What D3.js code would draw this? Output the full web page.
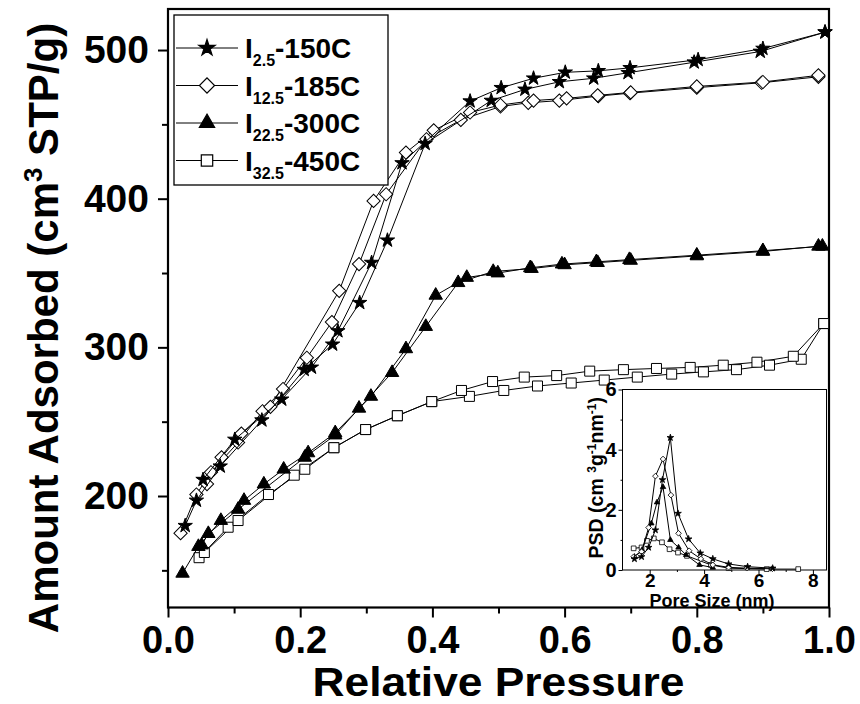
<!DOCTYPE html>
<html>
<head>
<meta charset="utf-8">
<script src="https://cdn.jsdelivr.net/npm/d3@7"></script>
<style>
  html, body { margin: 0; padding: 0; background: #fff; }
  svg { display: block; }
  text { font-family: "Liberation Sans", Arial, sans-serif; font-weight: bold; fill: #000; }
</style>
</head>
<body>
<svg id="chart" width="860" height="704"></svg>
<script>
// ---------------- data ----------------
const seriesNames = ["2.5", "12.5", "22.5", "32.5"];
const seriesSuffix = ["-150C", "-185C", "-300C", "-450C"];

const xTicks = [0, 0.2, 0.4, 0.6, 0.8, 1.0];
const xTickLabels = ["0.0", "0.2", "0.4", "0.6", "0.8", "1.0"];
const yTicks = [200, 300, 400, 500];
const yMinorTicks = [150, 250, 350, 450];
const xMinorTicks = [0.1, 0.3, 0.5, 0.7, 0.9];

// I2.5-150C (stars)
const starAdsP = [0.026, 0.043, 0.079, 0.142, 0.206, 0.249, 0.29, 0.332, 0.389, 0.489, 0.54, 0.592, 0.644, 0.696, 0.796, 0.896, 0.994];
const starAdsV = [180, 197, 220, 251, 285, 302, 330, 372, 437, 466, 473.5, 478.6, 481, 484.7, 491.8, 499, 512];
const starDesP = [0.994, 0.9, 0.802, 0.699, 0.651, 0.601, 0.553, 0.504, 0.457, 0.354, 0.308, 0.257, 0.217, 0.172, 0.101, 0.053];
const starDesV = [512, 501, 493.5, 488, 486, 485, 481, 474.6, 465.6, 424, 357, 311, 286.5, 265, 238, 211];

// I12.5-185C (open diamonds)
const diaAdsP = [0.019, 0.043, 0.065, 0.106, 0.143, 0.174, 0.21, 0.248, 0.289, 0.33, 0.391, 0.443, 0.503, 0.545, 0.592, 0.651, 0.699, 0.8, 0.898, 0.984];
const diaAdsV = [175, 201, 216, 236, 257, 272, 293, 317, 356, 403, 440, 453, 462, 464.5, 466, 469, 471, 474.7, 478, 482];
const diaDesP = [0.984, 0.9, 0.8, 0.7, 0.65, 0.603, 0.553, 0.503, 0.457, 0.402, 0.36, 0.311, 0.259, 0.155, 0.111, 0.081, 0.059];
const diaDesV = [483, 478.5, 475.5, 471.5, 469.5, 467.5, 466, 463, 458, 446, 431, 398.5, 338, 260, 242, 226, 208];

// I22.5-300C (filled triangles)
const triAdsP = [0.022, 0.046, 0.08, 0.115, 0.145, 0.175, 0.212, 0.253, 0.307, 0.36, 0.405, 0.452, 0.499, 0.548, 0.596, 0.648, 0.698, 0.8, 0.9, 0.99];
const triAdsV = [148, 166, 183.5, 197, 208, 218, 229, 242.5, 267, 299, 335, 347, 350, 353.5, 356, 357.5, 359, 362, 365, 368];
const triDesP = [0.984, 0.9, 0.8, 0.7, 0.65, 0.6, 0.55, 0.492, 0.439, 0.39, 0.339, 0.289, 0.253, 0.207, 0.106, 0.061, 0.051];
const triDesV = [368, 364.5, 361.5, 358.5, 357, 355.5, 353, 351, 343.5, 314, 283, 259, 241, 226, 191, 174.7, 167];

// I32.5-450C (open squares)
const sqAdsP = [0.047, 0.091, 0.152, 0.207, 0.251, 0.299, 0.347, 0.399, 0.456, 0.508, 0.559, 0.61, 0.66, 0.71, 0.762, 0.81, 0.86, 0.91, 0.958, 0.992];
const sqAdsV = [158.5, 179, 201, 218, 232.5, 244.7, 254, 263.5, 267, 271, 274, 276, 278, 280, 282, 283.5, 285, 288, 292, 316];
const sqDesP = [0.992, 0.946, 0.891, 0.84, 0.79, 0.739, 0.689, 0.638, 0.588, 0.539, 0.491, 0.444, 0.399, 0.347, 0.299, 0.251, 0.191, 0.106, 0.055];
const sqDesV = [316, 294, 290, 288, 286.5, 285.8, 285, 284, 281, 280, 277, 271, 263.5, 254, 244.7, 232.5, 214, 183.5, 162];

// Inset: pore size distribution
const insetXTicks = [2, 4, 6, 8];
const insetXMinor = [3, 5, 7];
const insetYTicks = [0, 2, 4, 6];
const insetYMinor = [1, 3, 5];
const psdStarX = [1.44, 1.70, 1.96, 2.21, 2.47, 2.76, 3.04, 3.43, 3.86, 4.32, 4.9, 5.6, 6.52];
const psdStarY = [0.37, 0.44, 0.75, 1.33, 3.0, 4.4, 1.88, 1.03, 0.56, 0.37, 0.2, 0.11, 0.06];
const psdDiaX = [1.41, 1.70, 1.96, 2.21, 2.49, 2.78, 3.06, 3.45, 3.88, 4.32, 4.9, 5.57, 6.51];
const psdDiaY = [0.44, 0.61, 1.41, 3.12, 3.69, 2.49, 1.22, 0.64, 0.37, 0.17, 0.09, 0.06, 0.04];
const psdTriX = [1.44, 1.72, 2.06, 2.27, 2.49, 2.76, 3.06, 3.34, 3.83, 4.32];
const psdTriY = [0.44, 0.67, 1.55, 2.25, 2.76, 1.0, 0.75, 0.5, 0.17, 0.08];
const psdSqX = [1.41, 1.70, 1.9, 2.15, 2.45, 2.73, 3.04, 3.37, 4.25, 4.9, 6.3, 7.46];
const psdSqY = [0.72, 0.75, 0.97, 1.05, 0.92, 0.69, 0.58, 0.47, 0.17, 0.06, 0.03, 0.03];

// ---------------- drawing ----------------
const FONT = "Liberation Sans, Arial, sans-serif";
const svg = d3.select("#chart");
const M = { left: 168, right: 829, top: 9, bottom: 607.5 };

const x = d3.scaleLinear().domain([0, 1]).range([M.left, M.right]);
const y = d3.scaleLinear().domain([125, 527.6]).range([M.bottom, M.top]);

const zip = (a, b) => a.map((v, i) => [v, b[i]]);

const symbols = [
  { type: d3.symbolStar, size: 64, fill: "#000", rot: 0 },
  { type: d3.symbolSquare, size: 88, fill: "#fff", rot: 45 },
  { type: d3.symbolTriangle, size: 78, fill: "#000", rot: 0 },
  { type: d3.symbolSquare, size: 100, fill: "#fff", rot: 0 }
];

const mainSeries = [
  { ads: zip(starAdsP, starAdsV), des: zip(starDesP, starDesV) },
  { ads: zip(diaAdsP, diaAdsV), des: zip(diaDesP, diaDesV) },
  { ads: zip(triAdsP, triAdsV), des: zip(triDesP, triDesV) },
  { ads: zip(sqAdsP, sqAdsV), des: zip(sqDesP, sqDesV) }
];

function styleText(sel, size) {
  sel.attr("font-size", size).attr("font-family", FONT).attr("font-weight", "bold").attr("fill", "#000");
}

// Axes
const gx = svg.append("g").attr("transform", `translate(0,${M.bottom})`)
  .call(d3.axisBottom(x).tickValues(xTicks).tickSize(10).tickPadding(9)
    .tickFormat((d, i) => xTickLabels[i]));
gx.select(".domain").remove();
gx.selectAll("line").attr("stroke", "#000").attr("stroke-width", 2);
styleText(gx.selectAll("text"), 38);
const gxm = svg.append("g").attr("transform", `translate(0,${M.bottom})`)
  .call(d3.axisBottom(x).tickValues(xMinorTicks).tickSize(6).tickFormat(""));
gxm.select(".domain").remove();
gxm.selectAll("line").attr("stroke", "#000").attr("stroke-width", 2);

const gy = svg.append("g").attr("transform", `translate(${M.left},0)`)
  .call(d3.axisLeft(y).tickValues(yTicks).tickSize(10).tickPadding(9));
gy.select(".domain").remove();
gy.selectAll("line").attr("stroke", "#000").attr("stroke-width", 2);
styleText(gy.selectAll("text"), 39);
const gym = svg.append("g").attr("transform", `translate(${M.left},0)`)
  .call(d3.axisLeft(y).tickValues(yMinorTicks).tickSize(6).tickFormat(""));
gym.select(".domain").remove();
gym.selectAll("line").attr("stroke", "#000").attr("stroke-width", 2);

// Frame
svg.append("rect").attr("x", M.left).attr("y", M.top)
  .attr("width", M.right - M.left).attr("height", M.bottom - M.top)
  .attr("fill", "none").attr("stroke", "#000").attr("stroke-width", 2.2);

// Axis titles
svg.append("text").attr("x", (M.left + M.right) / 2).attr("y", 696)
  .attr("text-anchor", "middle").attr("font-size", 41)
  .attr("textLength", 372).attr("lengthAdjust", "spacingAndGlyphs")
  .text("Relative Pressure");

const yt = svg.append("text")
  .attr("transform", `translate(58,328) rotate(-90)`)
  .attr("text-anchor", "middle").attr("font-size", 42);
yt.append("tspan").text("Amount Adsorbed (cm");
yt.append("tspan").attr("font-size", 26).attr("dy", -16).text("3");
yt.append("tspan").attr("dy", 16).text(" STP/g)");

// Series
const line = d3.line().x(d => x(d[0])).y(d => y(d[1]));
const seriesG = svg.append("g");
[3, 2, 1, 0].forEach(i => {
  const s = mainSeries[i];
  const g = seriesG.append("g");
  [s.ads, s.des].forEach(branch => {
    g.append("path").attr("d", line(branch)).attr("fill", "none")
      .attr("stroke", "#000").attr("stroke-width", 1);
  });
  const sym = symbols[i];
  const pts = s.ads.concat(s.des);
  g.selectAll("path.m").data(pts).enter().append("path").attr("class", "m")
    .attr("d", d3.symbol().type(sym.type).size(sym.size))
    .attr("transform", d => `translate(${x(d[0])},${y(d[1])}) rotate(${sym.rot})`)
    .attr("fill", sym.fill).attr("stroke", "#000").attr("stroke-width", 1);
});

// Legend
const L = { x: 174, y: 15, w: 214, h: 170 };
svg.append("rect").attr("x", L.x).attr("y", L.y).attr("width", L.w).attr("height", L.h)
  .attr("fill", "#fff").attr("stroke", "#000").attr("stroke-width", 1.3);
seriesNames.forEach((name, i) => {
  const cy = 48 + i * 37.5;
  const g = svg.append("g");
  g.append("line").attr("x1", L.x + 2).attr("x2", 238).attr("y1", cy).attr("y2", cy)
    .attr("stroke", "#000").attr("stroke-width", 1);
  const sym = symbols[i];
  g.append("path").attr("d", d3.symbol().type(sym.type).size(sym.size * 1.3))
    .attr("transform", `translate(207,${cy}) rotate(${sym.rot})`)
    .attr("fill", sym.fill).attr("stroke", "#000").attr("stroke-width", 1.2);
  const t = g.append("text").attr("x", 245).attr("y", cy + 10).attr("font-size", 28);
  t.append("tspan").text("I");
  t.append("tspan").attr("font-size", 16).attr("dy", 8).text(name);
  t.append("tspan").attr("dy", -8).text(seriesSuffix[i]);
});

// ---------------- inset ----------------
const I = { left: 622.5, right: 826.5, top: 389.5, bottom: 570 };
const ix = d3.scaleLinear().domain([1, 8.5]).range([I.left, I.right]);
const iy = d3.scaleLinear().domain([0, 6]).range([I.bottom, I.top]);

svg.append("rect").attr("x", I.left).attr("y", I.top)
  .attr("width", I.right - I.left).attr("height", I.bottom - I.top)
  .attr("fill", "#fff").attr("stroke", "#000").attr("stroke-width", 1);

const igx = svg.append("g").attr("transform", `translate(0,${I.bottom})`)
  .call(d3.axisBottom(ix).tickValues(insetXTicks).tickSize(4).tickPadding(-1).tickFormat(d3.format("d")));
igx.select(".domain").remove();
styleText(igx.selectAll("text"), 19);
const igxm = svg.append("g").attr("transform", `translate(0,${I.bottom})`)
  .call(d3.axisBottom(ix).tickValues(insetXMinor).tickSize(2).tickFormat(""));
igxm.select(".domain").remove();

const igy = svg.append("g").attr("transform", `translate(${I.left},0)`)
  .call(d3.axisLeft(iy).tickValues(insetYTicks).tickSize(4).tickPadding(2).tickFormat(d3.format("d")));
igy.select(".domain").remove();
styleText(igy.selectAll("text"), 20);
const igym = svg.append("g").attr("transform", `translate(${I.left},0)`)
  .call(d3.axisLeft(iy).tickValues(insetYMinor).tickSize(2).tickFormat(""));
igym.select(".domain").remove();

svg.append("text").attr("x", 712).attr("y", 607).attr("text-anchor", "middle")
  .attr("font-size", 18).text("Pore Size (nm)");

const iyt = svg.append("text")
  .attr("transform", `translate(603,${(I.top + I.bottom) / 2 - 2}) rotate(-90)`)
  .attr("text-anchor", "middle").attr("font-size", 19.5);
iyt.append("tspan").text("PSD (cm ");
iyt.append("tspan").attr("font-size", 12).attr("dy", -7).text("3");
iyt.append("tspan").attr("dy", 7).text("g");
iyt.append("tspan").attr("font-size", 12).attr("dy", -7).text("-1");
iyt.append("tspan").attr("dy", 7).text("nm");
iyt.append("tspan").attr("font-size", 12).attr("dy", -7).text("-1");
iyt.append("tspan").attr("dy", 7).text(")");

const insetSeries = [
  zip(psdStarX, psdStarY), zip(psdDiaX, psdDiaY), zip(psdTriX, psdTriY), zip(psdSqX, psdSqY)
];
const insetSizes = [14, 16, 13, 22];
const iline = d3.line().x(d => ix(d[0])).y(d => iy(d[1]));
[3, 2, 1, 0].forEach(i => {
  const pts = insetSeries[i];
  const g = svg.append("g");
  g.append("path").attr("d", iline(pts)).attr("fill", "none").attr("stroke", "#000").attr("stroke-width", 1);
  const sym = symbols[i];
  g.selectAll("path.m").data(pts).enter().append("path").attr("class", "m")
    .attr("d", d3.symbol().type(sym.type).size(insetSizes[i]))
    .attr("transform", d => `translate(${ix(d[0])},${iy(d[1])}) rotate(${sym.rot})`)
    .attr("fill", sym.fill).attr("stroke", "#000").attr("stroke-width", 0.8);
});
</script>
</body>
</html>
